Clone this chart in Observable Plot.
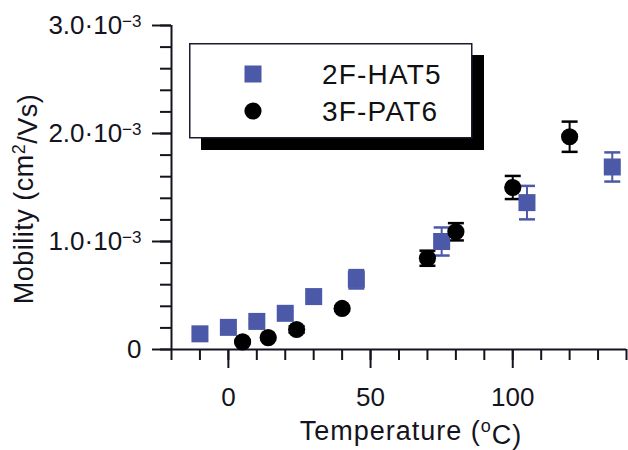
<!DOCTYPE html>
<html>
<head>
<meta charset="utf-8">
<script src="https://cdn.jsdelivr.net/npm/d3@7"></script>
<script src="https://cdn.jsdelivr.net/npm/@observablehq/plot@0.6"></script>
<style>
  html, body { margin: 0; padding: 0; background: white; }
  #wrap { position: relative; width: 628px; height: 450px; font-family: "Liberation Sans", Arial, Helvetica, sans-serif; }
  #legend { position: absolute; left: 0; top: 0; overflow: visible; }
</style>
</head>
<body>
<div id="wrap"></div>
<script>
// Series names
const seriesNames = ["2F-HAT5", "3F-PAT6"];
const seriesColors = ["#4c59a8", "#000000"];

// 2F-HAT5 (blue squares): temperature (°C), mobility (×1e-3 cm²/Vs), error (×1e-3)
const hatT   = [-10, 0, 10, 20, 30, 45, 75, 105, 135];
const hatMu  = [0.145, 0.205, 0.26, 0.335, 0.49, 0.65, 1.00, 1.36, 1.69];
const hatErr = [0.015, 0.015, 0.02, 0.02, 0.02, 0.085, 0.13, 0.155, 0.135];

// 3F-PAT6 (black circles)
const patT   = [5, 14, 24, 40, 70, 80, 100, 120];
const patMu  = [0.07, 0.11, 0.185, 0.38, 0.845, 1.09, 1.50, 1.97];
const patErr = [0.01, 0.015, 0.03, 0.02, 0.07, 0.08, 0.107, 0.14];

// Axis ticks
const xMajor = [0, 50, 100];
const xMinor = d3.range(-20, 141, 10);
const yMajor = [0, 1e-3, 2e-3, 3e-3];
const yMinor = d3.range(0, 16).map(i => i * 2e-4);

const hat = hatT.map((t, i) => ({t, mu: hatMu[i] * 1e-3, err: hatErr[i] * 1e-3}));
const pat = patT.map((t, i) => ({t, mu: patMu[i] * 1e-3, err: patErr[i] * 1e-3}));

// horizontal cap symbol
const capSymbol = {
  draw(ctx, size) {
    const w = Math.sqrt(size / Math.PI);
    ctx.moveTo(-w, 0);
    ctx.lineTo(w, 0);
  }
};

function errMarks(data, color) {
  return [
    Plot.ruleX(data, {x: "t", y1: d => d.mu - d.err, y2: d => d.mu + d.err, stroke: color, strokeWidth: 2}),
    Plot.dot(data, {x: "t", y: d => d.mu - d.err, symbol: capSymbol, r: 8, stroke: color, strokeWidth: 2.5}),
    Plot.dot(data, {x: "t", y: d => d.mu + d.err, symbol: capSymbol, r: 8, stroke: color, strokeWidth: 2.5})
  ];
}

const ink = "#141420";
const font = "'Liberation Sans', Arial, Helvetica, sans-serif";

const chart = Plot.plot({
  width: 628,
  height: 450,
  marginLeft: 171,
  marginRight: 2,
  marginTop: 25,
  marginBottom: 101,
  style: {fontFamily: font, fontSize: "26px", color: ink, background: "white", overflow: "visible"},
  x: {domain: [-20, 140], label: null},
  y: {domain: [0, 3e-3], label: null},
  marks: [
    Plot.axisX({ticks: xMinor, tickSize: 11, tickFormat: () => "", strokeWidth: 2}),
    Plot.axisX({ticks: xMajor, tickSize: 19, tickPadding: 19, strokeWidth: 2, tickFormat: d => String(d)}),
    Plot.axisY({ticks: yMinor, tickSize: 11, tickFormat: () => "", strokeWidth: 2}),
    Plot.axisY({ticks: yMajor, tickSize: 19, tickPadding: 11, strokeWidth: 2,
      tickFormat: d => d === 0 ? "0" : (d * 1e3).toFixed(1) + "·10^−3"}),
    Plot.ruleX([-20], {stroke: ink, strokeWidth: 2}),
    Plot.ruleY([0], {stroke: ink, strokeWidth: 2}),
    ...errMarks(hat, seriesColors[0]),
    ...errMarks(pat, seriesColors[1]),
    Plot.dot(hat, {x: "t", y: "mu", symbol: "square", r: 9.6, fill: seriesColors[0]}),
    Plot.dot(pat, {x: "t", y: "mu", symbol: "circle", r: 8.6, fill: seriesColors[1]})
  ]
});

const wrap = document.getElementById("wrap");
wrap.appendChild(chart);

// superscripts in y tick labels
const svg = d3.select(chart);
svg.selectAll("text").each(function() {
  const el = d3.select(this);
  const s = this.textContent;
  if (s.includes("^")) {
    const [base, sup] = s.split("^");
    el.text(null);
    el.append("tspan").text(base);
    el.append("tspan").attr("dy", "-0.42em").attr("font-size", "17px").text(sup);
  }
});

// axis titles
const xt = svg.append("text")
  .attr("x", 411).attr("y", 440)
  .attr("text-anchor", "middle")
  .attr("font-size", "27px").attr("letter-spacing", "1px").attr("fill", ink);
xt.append("tspan").text("Temperature (");
xt.append("tspan").attr("dy", "-0.42em").attr("font-size", "18px").text("o");
xt.append("tspan").attr("dy", "0.42em").text("C)");

const yt = svg.append("text")
  .attr("transform", "translate(33,199) rotate(-90)")
  .attr("text-anchor", "middle")
  .attr("font-size", "27px").attr("letter-spacing", "0.5px").attr("fill", ink);
yt.append("tspan").text("Mobility (cm");
yt.append("tspan").attr("dy", "-0.42em").attr("font-size", "18px").text("2");
yt.append("tspan").attr("dy", "0.42em").text("/Vs)");

// legend (box with drop shadow)
const lg = d3.select(wrap).append("svg")
  .attr("id", "legend").attr("width", 628).attr("height", 450);
lg.append("rect").attr("x", 201).attr("y", 55).attr("width", 283).attr("height", 95).attr("fill", "#000");
lg.append("rect").attr("x", 189.75).attr("y", 43.75).attr("width", 282).attr("height", 94)
  .attr("fill", "white").attr("stroke", "#1c1c30").attr("stroke-width", 1.5);
const rowY = [74, 111];
seriesNames.forEach((name, i) => {
  if (i === 0) {
    lg.append("rect").attr("x", 253 - 8.5).attr("y", rowY[i] - 8.5).attr("width", 17).attr("height", 17).attr("fill", seriesColors[0]);
  } else {
    lg.append("circle").attr("cx", 253).attr("cy", rowY[i]).attr("r", 8.6).attr("fill", seriesColors[1]);
  }
  lg.append("text").attr("x", 322).attr("y", rowY[i] + 9.5)
    .attr("font-family", font).attr("font-size", "28px").attr("letter-spacing", "1.2px")
    .attr("fill", "#111").text(name);
});
</script>
</body>
</html>
